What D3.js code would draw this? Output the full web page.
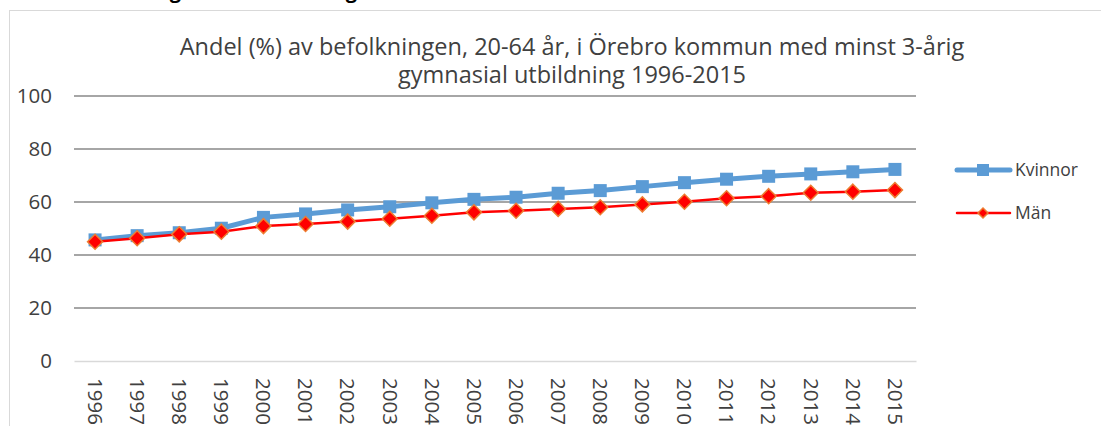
<!DOCTYPE html>
<html>
<head>
<meta charset="utf-8">
<script src="https://cdn.jsdelivr.net/npm/d3@7"></script>
<style>
  body { margin: 0; background: #fff; }
  svg { display: block; font-family: "Open Sans", sans-serif; }
</style>
</head>
<body>
<svg width="1101" height="426"></svg>
<script>
// data
const years = ['1996','1997','1998','1999','2000','2001','2002','2003','2004','2005',
               '2006','2007','2008','2009','2010','2011','2012','2013','2014','2015']
const kvinnor = [45.7, 47.3, 48.4, 50.1, 54.2, 55.5, 57.0, 58.2, 59.7, 61.0,
                 61.8, 63.3, 64.3, 65.8, 67.3, 68.6, 69.7, 70.6, 71.4, 72.3]
const man = [45.0, 46.3, 47.8, 48.8, 50.9, 51.7, 52.6, 53.7, 54.8, 56.1,
             56.7, 57.4, 58.0, 59.1, 60.1, 61.4, 62.2, 63.5, 63.9, 64.5]
const yTicks = [0, 20, 40, 60, 80, 100]
const titleLines = ['Andel (%) av befolkningen, 20-64 år, i Örebro kommun med minst 3-årig',
                    'gymnasial utbildning 1996-2015']

const svg = d3.select('svg')

// page heading cut off at the top edge
svg.append('text')
    .attr('x', 76)
    .attr('y', -2)
    .attr('font-size', 20)
    .attr('font-weight', 'bold')
    .attr('fill', '#000')
    .text('Utbildningsnivå i befolkningen')

// chart frame
svg.append('rect')
    .attr('x', 9.5)
    .attr('y', 10.5)
    .attr('width', 1200)
    .attr('height', 600)
    .attr('fill', '#fff')
    .attr('stroke', '#d9d9d9')

let x = d3.scaleBand().domain(years).range([74, 916])
let y = d3.scaleLinear().domain([0, 100]).range([361, 96])

// gridlines
svg.selectAll('line.grid')
    .data(yTicks.filter(d => d > 0))
    .enter()
    .append('line')
    .attr('class', 'grid')
    .attr('x1', 74)
    .attr('x2', 916)
    .attr('y1', d => y(d))
    .attr('y2', d => y(d))
    .attr('stroke', '#898989')
    .attr('stroke-width', 1.5)

// y axis labels
let yAxis = svg.append('g')
    .attr('transform', 'translate(74,0)')
    .call(d3.axisLeft(y).tickValues(yTicks).tickSize(0).tickPadding(22))
yAxis.select('.domain').remove()
yAxis.selectAll('text')
    .attr('font-family', '"Open Sans", sans-serif')
    .attr('font-size', 20.5)
    .attr('fill', '#404040')

// x axis
let xAxis = svg.append('g')
    .attr('transform', `translate(0,${y(0)})`)
    .call(d3.axisBottom(x).tickSize(0).tickPadding(0))
xAxis.select('.domain')
    .attr('stroke', '#d9d9d9')
    .attr('stroke-width', 1.5)
xAxis.selectAll('text')
    .attr('font-family', '"Open Sans", sans-serif')
    .attr('font-size', 20.5)
    .attr('fill', '#404040')
    .attr('transform', 'translate(0,17) rotate(90)')
    .attr('text-anchor', 'start')
    .attr('dy', '0.35em')
    .attr('y', 0)
    .attr('x', 0)

// title
svg.append('text')
    .attr('x', 572)
    .attr('y', 55)
    .attr('text-anchor', 'middle')
    .attr('font-size', 23.5)
    .attr('fill', '#404040')
    .selectAll('tspan')
    .data(titleLines)
    .enter()
    .append('tspan')
    .attr('x', 572)
    .attr('dy', (d, i) => i == 0 ? 0 : 28)
    .text(d => d)

let cx = d => x(d) + x.bandwidth() / 2
let line = d3.line()

// Kvinnor
svg.append('path')
    .attr('d', line(years.map((d, i) => [cx(d), y(kvinnor[i])])))
    .attr('fill', 'none')
    .attr('stroke', '#5b9bd5')
    .attr('stroke-width', 5)
    .attr('stroke-linejoin', 'round')

svg.selectAll('rect.kv')
    .data(years)
    .enter()
    .append('rect')
    .attr('class', 'kv')
    .attr('x', d => cx(d) - 6.5)
    .attr('y', (d, i) => y(kvinnor[i]) - 6.5)
    .attr('width', 13)
    .attr('height', 13)
    .attr('fill', '#5b9bd5')

// Män
svg.append('path')
    .attr('d', line(years.map((d, i) => [cx(d), y(man[i])])))
    .attr('fill', 'none')
    .attr('stroke', '#ff0000')
    .attr('stroke-width', 2.5)

let diamond = 'M0,-7.5L7.5,0L0,7.5L-7.5,0Z'
svg.selectAll('path.man')
    .data(years)
    .enter()
    .append('path')
    .attr('class', 'man')
    .attr('d', diamond)
    .attr('transform', (d, i) => `translate(${cx(d)},${y(man[i])})`)
    .attr('fill', '#ff0000')
    .attr('stroke', '#ed7d31')
    .attr('stroke-width', 1.5)

// legend
let legend = [
    {name: 'Kvinnor', y: 170, color: '#5b9bd5', width: 5},
    {name: 'Män', y: 213, color: '#ff0000', width: 2.5}
]
let lg = svg.selectAll('g.legend')
    .data(legend)
    .enter()
    .append('g')
    .attr('class', 'legend')
    .attr('transform', d => `translate(0,${d.y})`)

lg.append('line')
    .attr('x1', 957)
    .attr('x2', 1010)
    .attr('stroke', d => d.color)
    .attr('stroke-width', d => d.width)
    .attr('stroke-linecap', 'round')

lg.filter(d => d.name == 'Kvinnor')
    .append('rect')
    .attr('x', 977)
    .attr('y', -6)
    .attr('width', 12)
    .attr('height', 12)
    .attr('fill', '#5b9bd5')

lg.filter(d => d.name == 'Män')
    .append('path')
    .attr('d', 'M0,-5L5,0L0,5L-5,0Z')
    .attr('transform', 'translate(983,0)')
    .attr('fill', '#ff0000')
    .attr('stroke', '#ed7d31')
    .attr('stroke-width', 1.5)

lg.append('text')
    .attr('x', 1015)
    .attr('dy', '0.35em')
    .attr('font-size', 17.5)
    .attr('fill', '#404040')
    .text(d => d.name)
</script>
</body>
</html>
